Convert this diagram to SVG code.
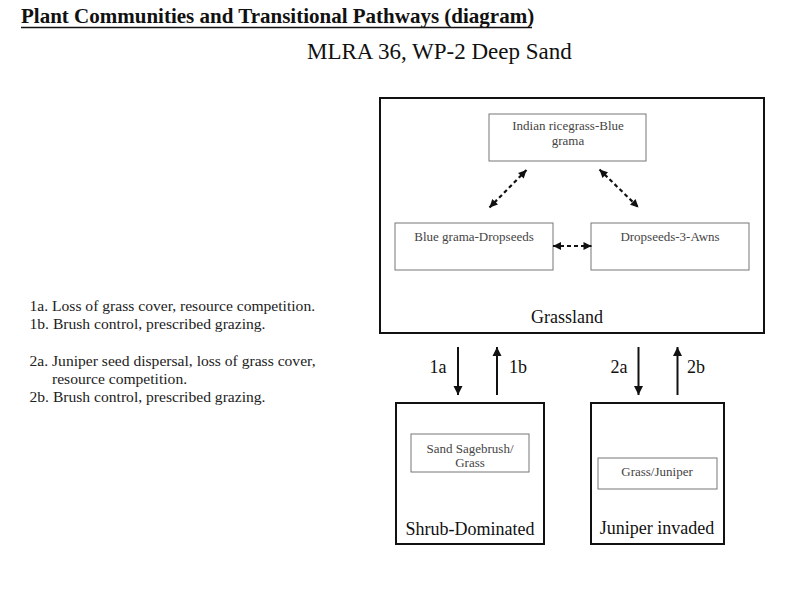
<svg xmlns="http://www.w3.org/2000/svg" width="800" height="599" viewBox="0 0 800 599">
<style>
text{font-family:"Liberation Serif","Times New Roman",serif;fill:#111}
.outer{fill:none;stroke:#111;stroke-width:2}
.inner{fill:none;stroke:#777;stroke-width:1}
.it{font-size:13px;fill:#444;text-anchor:middle}
.lab{font-size:18px;text-anchor:middle}
.note{font-size:15.6px;fill:#222}
.dash{stroke:#111;stroke-width:2.2;stroke-dasharray:4 3;fill:none}
.solid{stroke:#111;stroke-width:2;fill:none}
</style>
<defs>
<marker id="dh" viewBox="0 0 10 10" refX="10" refY="5" markerWidth="9" markerHeight="8" markerUnits="userSpaceOnUse" orient="auto-start-reverse">
<path d="M0,0L10,5L0,10z" fill="#111"/>
</marker>
<marker id="sh" viewBox="0 0 10 10" refX="10" refY="5" markerWidth="9" markerHeight="10" markerUnits="userSpaceOnUse" orient="auto">
<path d="M0,0L10,5L0,10z" fill="#111"/>
</marker>
</defs>
<rect width="800" height="599" fill="#fff"/>
<g id="title">
<text x="21" y="23" font-size="21" font-weight="bold">Plant Communities and Transitional Pathways (diagram)</text>
<line x1="21" y1="27.5" x2="532" y2="27.5" stroke="#111" stroke-width="1.5"/>
<text x="307" y="59" font-size="23">MLRA 36, WP-2 Deep Sand</text>
</g>
<g id="notes">
<text class="note" x="29.5" y="310.5">1a. Loss of grass cover, resource competition.</text>
<text class="note" x="29.5" y="328.5">1b. Brush control, prescribed grazing.</text>
<text class="note" x="29.5" y="366">2a. Juniper seed dispersal, loss of grass cover,</text>
<text class="note" x="52" y="384">resource competition.</text>
<text class="note" x="29.5" y="402">2b. Brush control, prescribed grazing.</text>
</g>
<g id="grassland">
<rect class="outer" x="380" y="98" width="384" height="235"/>
<text class="lab" x="567" y="323">Grassland</text>
</g>
<g id="indian-ricegrass">
<rect class="inner" x="489" y="114" width="157" height="47"/>
<text class="it" x="568" y="130">Indian ricegrass-Blue</text>
<text class="it" x="568" y="145">grama</text>
</g>
<g id="blue-grama">
<rect class="inner" x="395" y="223" width="158" height="47"/>
<text class="it" x="474" y="241">Blue grama-Dropseeds</text>
</g>
<g id="dropseeds">
<rect class="inner" x="591" y="223" width="158" height="47"/>
<text class="it" x="670" y="241">Dropseeds-3-Awns</text>
</g>
<g id="shrub">
<rect class="outer" x="396" y="403" width="148" height="141"/>
<rect class="inner" x="411" y="434" width="118" height="38"/>
<text class="it" x="470" y="453">Sand Sagebrush/</text>
<text class="it" x="470" y="467">Grass</text>
<text class="lab" x="470" y="535">Shrub-Dominated</text>
</g>
<g id="juniper">
<rect class="outer" x="591" y="403" width="133" height="141"/>
<rect class="inner" x="598" y="458" width="119" height="31"/>
<text class="it" x="657" y="476">Grass/Juniper</text>
<text class="lab" x="657" y="534">Juniper invaded</text>
</g>
<g id="connectors">
<line class="dash" x1="526.5" y1="170" x2="489.5" y2="207.5" marker-start="url(#dh)" marker-end="url(#dh)"/>
<line class="dash" x1="599.5" y1="169.5" x2="638.5" y2="207.5" marker-start="url(#dh)" marker-end="url(#dh)"/>
<line class="dash" x1="553" y1="246" x2="591.5" y2="246" marker-start="url(#dh)" marker-end="url(#dh)"/>
<line class="solid" x1="458" y1="347" x2="458" y2="395" marker-end="url(#sh)"/>
<line class="solid" x1="497" y1="395" x2="497" y2="347" marker-end="url(#sh)"/>
<line class="solid" x1="638.5" y1="347" x2="638.5" y2="395" marker-end="url(#sh)"/>
<line class="solid" x1="677.5" y1="395" x2="677.5" y2="347" marker-end="url(#sh)"/>
<text class="lab" x="438" y="373">1a</text>
<text class="lab" x="518" y="373">1b</text>
<text class="lab" x="619" y="373">2a</text>
<text class="lab" x="696" y="373">2b</text>
</g>
</svg>
